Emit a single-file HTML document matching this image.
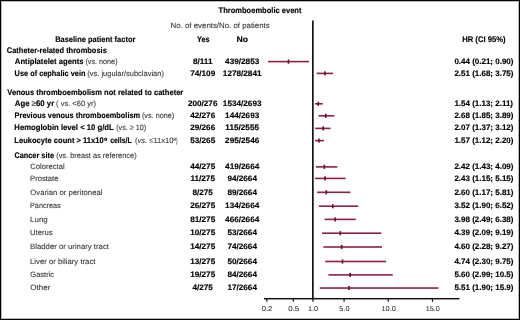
<!DOCTYPE html>
<html><head><meta charset="utf-8"><style>
html,body{margin:0;padding:0;background:#fff;}
body{width:520px;height:320px;overflow:hidden;}
svg{display:block;font-family:"Liberation Sans",sans-serif;text-rendering:geometricPrecision;}
.txt{filter:grayscale(1);}
text[font-weight=normal]{stroke:#444;stroke-width:0.1px;}
text[font-weight=bold]{stroke:#000;stroke-width:0.15px;}
</style></head><body>
<svg width="520" height="320" viewBox="0 0 520 320">
<rect x="0" y="0" width="520" height="320" fill="#fff"/>
<rect x="312.00" y="20.50" width="1.7" height="278.20" fill="#151515"/>
<rect x="264.00" y="297.95" width="195.50" height="1.5" fill="#151515"/>
<rect x="266.20" y="298.70" width="1.2" height="3.10" fill="#151515"/>
<rect x="292.70" y="298.70" width="1.2" height="3.10" fill="#151515"/>
<rect x="312.30" y="298.70" width="1.2" height="3.10" fill="#151515"/>
<rect x="343.50" y="298.70" width="1.2" height="3.10" fill="#151515"/>
<rect x="387.70" y="298.70" width="1.2" height="3.10" fill="#151515"/>
<rect x="431.90" y="298.70" width="1.2" height="3.10" fill="#151515"/>
<rect x="267.90" y="60.80" width="41.10" height="1.6" fill="#8e2046"/>
<rect x="287.70" y="59.50" width="1.6" height="4.2" fill="#661030"/>
<rect x="316.70" y="72.60" width="16.40" height="1.6" fill="#8e2046"/>
<rect x="324.20" y="71.30" width="1.6" height="4.2" fill="#661030"/>
<rect x="315.00" y="103.00" width="7.80" height="1.6" fill="#8e2046"/>
<rect x="317.45" y="101.70" width="1.6" height="4.2" fill="#661030"/>
<rect x="318.50" y="115.00" width="15.90" height="1.6" fill="#8e2046"/>
<rect x="325.00" y="113.70" width="1.6" height="4.2" fill="#661030"/>
<rect x="315.10" y="127.60" width="15.40" height="1.6" fill="#8e2046"/>
<rect x="322.40" y="126.30" width="1.6" height="4.2" fill="#661030"/>
<rect x="315.10" y="139.80" width="8.80" height="1.6" fill="#8e2046"/>
<rect x="318.10" y="138.50" width="1.6" height="4.2" fill="#661030"/>
<rect x="315.90" y="166.10" width="21.40" height="1.6" fill="#8e2046"/>
<rect x="323.55" y="164.80" width="1.6" height="4.2" fill="#661030"/>
<rect x="315.00" y="177.60" width="30.60" height="1.6" fill="#8e2046"/>
<rect x="324.20" y="176.30" width="1.6" height="4.2" fill="#661030"/>
<rect x="317.10" y="191.50" width="33.30" height="1.6" fill="#8e2046"/>
<rect x="325.45" y="190.20" width="1.6" height="4.2" fill="#661030"/>
<rect x="318.90" y="205.40" width="39.30" height="1.6" fill="#8e2046"/>
<rect x="332.00" y="204.10" width="1.6" height="4.2" fill="#661030"/>
<rect x="324.60" y="218.60" width="31.20" height="1.6" fill="#8e2046"/>
<rect x="334.30" y="217.30" width="1.6" height="4.2" fill="#661030"/>
<rect x="322.00" y="232.40" width="59.30" height="1.6" fill="#8e2046"/>
<rect x="339.50" y="231.10" width="1.6" height="4.2" fill="#661030"/>
<rect x="323.40" y="246.20" width="58.60" height="1.6" fill="#8e2046"/>
<rect x="340.90" y="244.90" width="1.6" height="4.2" fill="#661030"/>
<rect x="325.20" y="260.70" width="60.80" height="1.6" fill="#8e2046"/>
<rect x="341.70" y="259.40" width="1.6" height="4.2" fill="#661030"/>
<rect x="328.50" y="274.10" width="64.25" height="1.6" fill="#8e2046"/>
<rect x="349.30" y="272.80" width="1.6" height="4.2" fill="#661030"/>
<rect x="319.75" y="287.25" width="118.75" height="1.6" fill="#8e2046"/>
<rect x="348.20" y="285.95" width="1.6" height="4.2" fill="#661030"/>
<g class="txt">
<text id="t_title" x="218.60" y="13.00" font-size="8.1" font-weight="bold" fill="#000" textLength="82.85" lengthAdjust="spacingAndGlyphs">Thromboembolic event</text>
<text id="t_noev" x="170.60" y="27.50" font-size="7.7" font-weight="normal" fill="#333" textLength="99.10" lengthAdjust="spacingAndGlyphs">No. of events/No. of patients</text>
<text id="t_bpf" x="55.15" y="41.70" font-size="8.1" font-weight="bold" fill="#000" textLength="80.25" lengthAdjust="spacingAndGlyphs">Baseline patient factor</text>
<text id="t_yes" x="196.95" y="41.80" font-size="8.1" font-weight="bold" fill="#000" textLength="12.60" lengthAdjust="spacingAndGlyphs">Yes</text>
<text id="t_no" x="236.45" y="41.80" font-size="8.1" font-weight="bold" fill="#000" textLength="11.60" lengthAdjust="spacingAndGlyphs">No</text>
<text id="t_hr" x="462.15" y="41.80" font-size="8.1" font-weight="bold" fill="#000" textLength="43.50" lengthAdjust="spacingAndGlyphs">HR (CI 95%)</text>
<text id="t_cath" x="6.80" y="52.90" font-size="8.1" font-weight="bold" fill="#000" textLength="100.00" lengthAdjust="spacingAndGlyphs">Catheter-related thrombosis</text>
<text id="t_anti" x="14.85" y="63.80" font-size="8.1" font-weight="bold" fill="#000" textLength="68.70" lengthAdjust="spacingAndGlyphs">Antiplatelet agents</text>
<text id="t_anti2" x="85.40" y="63.80" font-size="7.7" font-weight="normal" fill="#333" textLength="32.15" lengthAdjust="spacingAndGlyphs">(vs. none)</text>
<text id="t_ceph" x="14.60" y="75.50" font-size="8.1" font-weight="bold" fill="#000" textLength="70.85" lengthAdjust="spacingAndGlyphs">Use of cephalic vein</text>
<text id="t_ceph2" x="87.30" y="75.50" font-size="7.7" font-weight="normal" fill="#333" textLength="76.65" lengthAdjust="spacingAndGlyphs">(vs. jugular/subclavian)</text>
<text id="t_ven" x="7.35" y="94.70" font-size="8.1" font-weight="bold" fill="#000" textLength="175.95" lengthAdjust="spacingAndGlyphs">Venous thromboembolism not related to catheter</text>
<text id="t_age" x="14.85" y="106.00" font-size="8.1" font-weight="bold" fill="#000" textLength="39.35" lengthAdjust="spacingAndGlyphs">Age <tspan fill="#777">≥</tspan>60 yr</text>
<text id="t_age2" x="56.10" y="106.00" font-size="7.7" font-weight="normal" fill="#333" textLength="39.85" lengthAdjust="spacingAndGlyphs">( vs. &lt;60 yr)</text>
<text id="t_prev" x="14.60" y="117.60" font-size="8.1" font-weight="bold" fill="#000" textLength="125.55" lengthAdjust="spacingAndGlyphs">Previous venous thromboembolism</text>
<text id="t_prev2" x="141.90" y="117.60" font-size="7.7" font-weight="normal" fill="#333" textLength="32.35" lengthAdjust="spacingAndGlyphs">(vs. none)</text>
<text id="t_hem" x="14.35" y="130.20" font-size="8.1" font-weight="bold" fill="#000" textLength="99.35" lengthAdjust="spacingAndGlyphs">Hemoglobin level &lt; 10 g/dL</text>
<text id="t_hem2" x="116.20" y="130.20" font-size="7.7" font-weight="normal" fill="#333" textLength="30.05" lengthAdjust="spacingAndGlyphs">(vs. <tspan fill="#777">≥</tspan> 10)</text>
<text id="t_leu" x="14.35" y="142.60" font-size="8.1" font-weight="bold" fill="#000" textLength="89.35" lengthAdjust="spacingAndGlyphs">Leukocyte count &gt; 11x10</text>
<text id="t_leus" x="103.95" y="140.50" font-size="4.8" font-weight="bold" fill="#000" textLength="3.25" lengthAdjust="spacingAndGlyphs">9</text>
<text id="t_leu2" x="110.20" y="142.60" font-size="8.1" font-weight="bold" fill="#000" textLength="21.50" lengthAdjust="spacingAndGlyphs">cells/L</text>
<text id="t_leu3" x="134.90" y="142.60" font-size="7.7" font-weight="normal" fill="#333" textLength="38.60" lengthAdjust="spacingAndGlyphs">(<tspan font-style="italic">vs.</tspan> <tspan fill="#777">≤</tspan>11x10</text>
<text id="t_leu3s" x="173.35" y="140.50" font-size="4.8" font-weight="normal" fill="#333" textLength="2.80" lengthAdjust="spacingAndGlyphs">9</text>
<text id="t_leu4" x="176.05" y="142.60" font-size="7.7" font-weight="normal" fill="#333" textLength="1.55" lengthAdjust="spacingAndGlyphs">)</text>
<text id="t_can" x="14.40" y="157.50" font-size="8.1" font-weight="bold" fill="#000" textLength="39.60" lengthAdjust="spacingAndGlyphs">Cancer site</text>
<text id="t_can2" x="56.20" y="157.50" font-size="7.7" font-weight="normal" fill="#333" textLength="80.45" lengthAdjust="spacingAndGlyphs">(vs. breast as reference)</text>
<text id="c_0" x="30.30" y="168.90" font-size="7.7" font-weight="normal" fill="#333" textLength="34.35" lengthAdjust="spacingAndGlyphs">Colorectal</text>
<text id="c_1" x="30.05" y="180.70" font-size="7.7" font-weight="normal" fill="#333" textLength="28.40" lengthAdjust="spacingAndGlyphs">Prostate</text>
<text id="c_2" x="30.30" y="194.50" font-size="7.7" font-weight="normal" fill="#333" textLength="72.15" lengthAdjust="spacingAndGlyphs">Ovarian or peritoneal</text>
<text id="c_3" x="30.05" y="208.20" font-size="7.7" font-weight="normal" fill="#333" textLength="30.55" lengthAdjust="spacingAndGlyphs">Pancreas</text>
<text id="c_4" x="30.05" y="221.50" font-size="7.7" font-weight="normal" fill="#333" textLength="17.70" lengthAdjust="spacingAndGlyphs">Lung</text>
<text id="c_5" x="30.05" y="235.40" font-size="7.7" font-weight="normal" fill="#333" textLength="22.65" lengthAdjust="spacingAndGlyphs">Uterus</text>
<text id="c_6" x="30.05" y="249.00" font-size="7.7" font-weight="normal" fill="#333" textLength="78.90" lengthAdjust="spacingAndGlyphs">Bladder or urinary tract</text>
<text id="c_7" x="30.05" y="263.70" font-size="7.7" font-weight="normal" fill="#333" textLength="65.40" lengthAdjust="spacingAndGlyphs">Liver or biliary tract</text>
<text id="c_8" x="30.30" y="277.40" font-size="7.7" font-weight="normal" fill="#333" textLength="23.80" lengthAdjust="spacingAndGlyphs">Gastric</text>
<text id="c_9" x="30.30" y="290.00" font-size="7.7" font-weight="normal" fill="#333" textLength="20.00" lengthAdjust="spacingAndGlyphs">Other</text>
<text id="ny_anti" x="192.92" y="63.80" font-size="7.9" font-weight="bold" fill="#000" textLength="19.57" lengthAdjust="spacingAndGlyphs">8/111</text>
<text id="nn_anti" x="225.14" y="63.80" font-size="7.9" font-weight="bold" fill="#000" textLength="34.11" lengthAdjust="spacingAndGlyphs">439/2853</text>
<text id="hr_anti" x="454.40" y="63.80" font-size="7.9" font-weight="bold" fill="#000" textLength="59.06" lengthAdjust="spacingAndGlyphs">0.44 (0.21; 0.90)</text>
<text id="ny_ceph" x="190.19" y="75.50" font-size="7.9" font-weight="bold" fill="#000" textLength="25.02" lengthAdjust="spacingAndGlyphs">74/109</text>
<text id="nn_ceph" x="222.88" y="75.50" font-size="7.9" font-weight="bold" fill="#000" textLength="38.64" lengthAdjust="spacingAndGlyphs">1278/2841</text>
<text id="hr_ceph" x="454.40" y="75.50" font-size="7.9" font-weight="bold" fill="#000" textLength="59.06" lengthAdjust="spacingAndGlyphs">2.51 (1.68; 3.75)</text>
<text id="ny_age" x="187.92" y="106.00" font-size="7.9" font-weight="bold" fill="#000" textLength="29.57" lengthAdjust="spacingAndGlyphs">200/276</text>
<text id="nn_age" x="222.88" y="106.00" font-size="7.9" font-weight="bold" fill="#000" textLength="38.64" lengthAdjust="spacingAndGlyphs">1534/2693</text>
<text id="hr_age" x="454.40" y="106.00" font-size="7.9" font-weight="bold" fill="#000" textLength="58.62" lengthAdjust="spacingAndGlyphs">1.54 (1.13; 2.11)</text>
<text id="ny_prev" x="190.19" y="117.60" font-size="7.9" font-weight="bold" fill="#000" textLength="25.02" lengthAdjust="spacingAndGlyphs">42/276</text>
<text id="nn_prev" x="225.14" y="117.60" font-size="7.9" font-weight="bold" fill="#000" textLength="34.11" lengthAdjust="spacingAndGlyphs">144/2693</text>
<text id="hr_prev" x="454.40" y="117.60" font-size="7.9" font-weight="bold" fill="#000" textLength="59.06" lengthAdjust="spacingAndGlyphs">2.68 (1.85; 3.89)</text>
<text id="ny_hem" x="190.19" y="130.20" font-size="7.9" font-weight="bold" fill="#000" textLength="25.02" lengthAdjust="spacingAndGlyphs">29/266</text>
<text id="nn_hem" x="225.37" y="130.20" font-size="7.9" font-weight="bold" fill="#000" textLength="33.65" lengthAdjust="spacingAndGlyphs">115/2555</text>
<text id="hr_hem" x="454.40" y="130.20" font-size="7.9" font-weight="bold" fill="#000" textLength="59.06" lengthAdjust="spacingAndGlyphs">2.07 (1.37; 3.12)</text>
<text id="ny_leu" x="190.19" y="142.60" font-size="7.9" font-weight="bold" fill="#000" textLength="25.02" lengthAdjust="spacingAndGlyphs">53/265</text>
<text id="nn_leu" x="225.14" y="142.60" font-size="7.9" font-weight="bold" fill="#000" textLength="34.11" lengthAdjust="spacingAndGlyphs">295/2546</text>
<text id="hr_leu" x="454.40" y="142.60" font-size="7.9" font-weight="bold" fill="#000" textLength="59.06" lengthAdjust="spacingAndGlyphs">1.57 (1.12; 2.20)</text>
<text id="ny_c0" x="190.19" y="168.90" font-size="7.9" font-weight="bold" fill="#000" textLength="25.02" lengthAdjust="spacingAndGlyphs">44/275</text>
<text id="nn_c0" x="225.14" y="168.90" font-size="7.9" font-weight="bold" fill="#000" textLength="34.11" lengthAdjust="spacingAndGlyphs">419/2664</text>
<text id="hr_c0" x="454.40" y="168.90" font-size="7.9" font-weight="bold" fill="#000" textLength="59.06" lengthAdjust="spacingAndGlyphs">2.42 (1.43; 4.09)</text>
<text id="ny_c1" x="190.42" y="180.70" font-size="7.9" font-weight="bold" fill="#000" textLength="24.56" lengthAdjust="spacingAndGlyphs">11/275</text>
<text id="nn_c1" x="227.42" y="180.70" font-size="7.9" font-weight="bold" fill="#000" textLength="29.57" lengthAdjust="spacingAndGlyphs">94/2664</text>
<text id="hr_c1" x="454.40" y="180.70" font-size="7.9" font-weight="bold" fill="#000" textLength="59.06" lengthAdjust="spacingAndGlyphs">2.43 (1.15; 5.15)</text>
<text id="ny_c2" x="192.46" y="194.50" font-size="7.9" font-weight="bold" fill="#000" textLength="20.47" lengthAdjust="spacingAndGlyphs">8/275</text>
<text id="nn_c2" x="227.42" y="194.50" font-size="7.9" font-weight="bold" fill="#000" textLength="29.57" lengthAdjust="spacingAndGlyphs">89/2664</text>
<text id="hr_c2" x="454.40" y="194.50" font-size="7.9" font-weight="bold" fill="#000" textLength="59.06" lengthAdjust="spacingAndGlyphs">2.60 (1.17; 5.81)</text>
<text id="ny_c3" x="190.19" y="208.20" font-size="7.9" font-weight="bold" fill="#000" textLength="25.02" lengthAdjust="spacingAndGlyphs">26/275</text>
<text id="nn_c3" x="225.14" y="208.20" font-size="7.9" font-weight="bold" fill="#000" textLength="34.11" lengthAdjust="spacingAndGlyphs">134/2664</text>
<text id="hr_c3" x="454.40" y="208.20" font-size="7.9" font-weight="bold" fill="#000" textLength="59.06" lengthAdjust="spacingAndGlyphs">3.52 (1.90; 6.52)</text>
<text id="ny_c4" x="190.19" y="221.50" font-size="7.9" font-weight="bold" fill="#000" textLength="25.02" lengthAdjust="spacingAndGlyphs">81/275</text>
<text id="nn_c4" x="225.14" y="221.50" font-size="7.9" font-weight="bold" fill="#000" textLength="34.11" lengthAdjust="spacingAndGlyphs">466/2664</text>
<text id="hr_c4" x="454.40" y="221.50" font-size="7.9" font-weight="bold" fill="#000" textLength="59.06" lengthAdjust="spacingAndGlyphs">3.98 (2.49; 6.38)</text>
<text id="ny_c5" x="190.19" y="235.40" font-size="7.9" font-weight="bold" fill="#000" textLength="25.02" lengthAdjust="spacingAndGlyphs">10/275</text>
<text id="nn_c5" x="227.42" y="235.40" font-size="7.9" font-weight="bold" fill="#000" textLength="29.57" lengthAdjust="spacingAndGlyphs">53/2664</text>
<text id="hr_c5" x="454.40" y="235.40" font-size="7.9" font-weight="bold" fill="#000" textLength="59.06" lengthAdjust="spacingAndGlyphs">4.39 (2.09; 9.19)</text>
<text id="ny_c6" x="190.19" y="249.00" font-size="7.9" font-weight="bold" fill="#000" textLength="25.02" lengthAdjust="spacingAndGlyphs">14/275</text>
<text id="nn_c6" x="227.42" y="249.00" font-size="7.9" font-weight="bold" fill="#000" textLength="29.57" lengthAdjust="spacingAndGlyphs">74/2664</text>
<text id="hr_c6" x="454.40" y="249.00" font-size="7.9" font-weight="bold" fill="#000" textLength="59.06" lengthAdjust="spacingAndGlyphs">4.60 (2.28; 9.27)</text>
<text id="ny_c7" x="190.19" y="263.70" font-size="7.9" font-weight="bold" fill="#000" textLength="25.02" lengthAdjust="spacingAndGlyphs">13/275</text>
<text id="nn_c7" x="227.42" y="263.70" font-size="7.9" font-weight="bold" fill="#000" textLength="29.57" lengthAdjust="spacingAndGlyphs">50/2664</text>
<text id="hr_c7" x="454.40" y="263.70" font-size="7.9" font-weight="bold" fill="#000" textLength="59.06" lengthAdjust="spacingAndGlyphs">4.74 (2.30; 9.75)</text>
<text id="ny_c8" x="190.19" y="277.40" font-size="7.9" font-weight="bold" fill="#000" textLength="25.02" lengthAdjust="spacingAndGlyphs">19/275</text>
<text id="nn_c8" x="227.42" y="277.40" font-size="7.9" font-weight="bold" fill="#000" textLength="29.57" lengthAdjust="spacingAndGlyphs">84/2664</text>
<text id="hr_c8" x="454.40" y="277.40" font-size="7.9" font-weight="bold" fill="#000" textLength="59.06" lengthAdjust="spacingAndGlyphs">5.60 (2.99; 10.5)</text>
<text id="ny_c9" x="192.46" y="290.00" font-size="7.9" font-weight="bold" fill="#000" textLength="20.47" lengthAdjust="spacingAndGlyphs">4/275</text>
<text id="nn_c9" x="227.42" y="290.00" font-size="7.9" font-weight="bold" fill="#000" textLength="29.57" lengthAdjust="spacingAndGlyphs">17/2664</text>
<text id="hr_c9" x="454.40" y="290.00" font-size="7.9" font-weight="bold" fill="#000" textLength="59.06" lengthAdjust="spacingAndGlyphs">5.51 (1.90; 15.9)</text>
<text id="ax_0" x="261.65" y="311.30" font-size="7.0" font-weight="normal" fill="#333" textLength="10.80" lengthAdjust="spacingAndGlyphs">0.2</text>
<text id="ax_1" x="288.25" y="311.30" font-size="7.0" font-weight="normal" fill="#333" textLength="11.00" lengthAdjust="spacingAndGlyphs">0.5</text>
<text id="ax_2" x="308.00" y="311.30" font-size="7.0" font-weight="normal" fill="#333" textLength="10.20" lengthAdjust="spacingAndGlyphs">1.0</text>
<text id="ax_3" x="339.30" y="311.30" font-size="7.0" font-weight="normal" fill="#333" textLength="10.20" lengthAdjust="spacingAndGlyphs">5.0</text>
<text id="ax_4" x="381.50" y="311.30" font-size="7.0" font-weight="normal" fill="#333" textLength="14.30" lengthAdjust="spacingAndGlyphs">10.0</text>
<text id="ax_5" x="425.80" y="311.30" font-size="7.0" font-weight="normal" fill="#333" textLength="14.00" lengthAdjust="spacingAndGlyphs">15.0</text>
</g>
<rect x="0.5" y="0.5" width="519" height="319" fill="none" stroke="#000" stroke-width="1"/>
<rect x="1.5" y="1.5" width="517" height="317" fill="none" stroke="#bbb" stroke-width="1"/>
</svg>
</body></html>
